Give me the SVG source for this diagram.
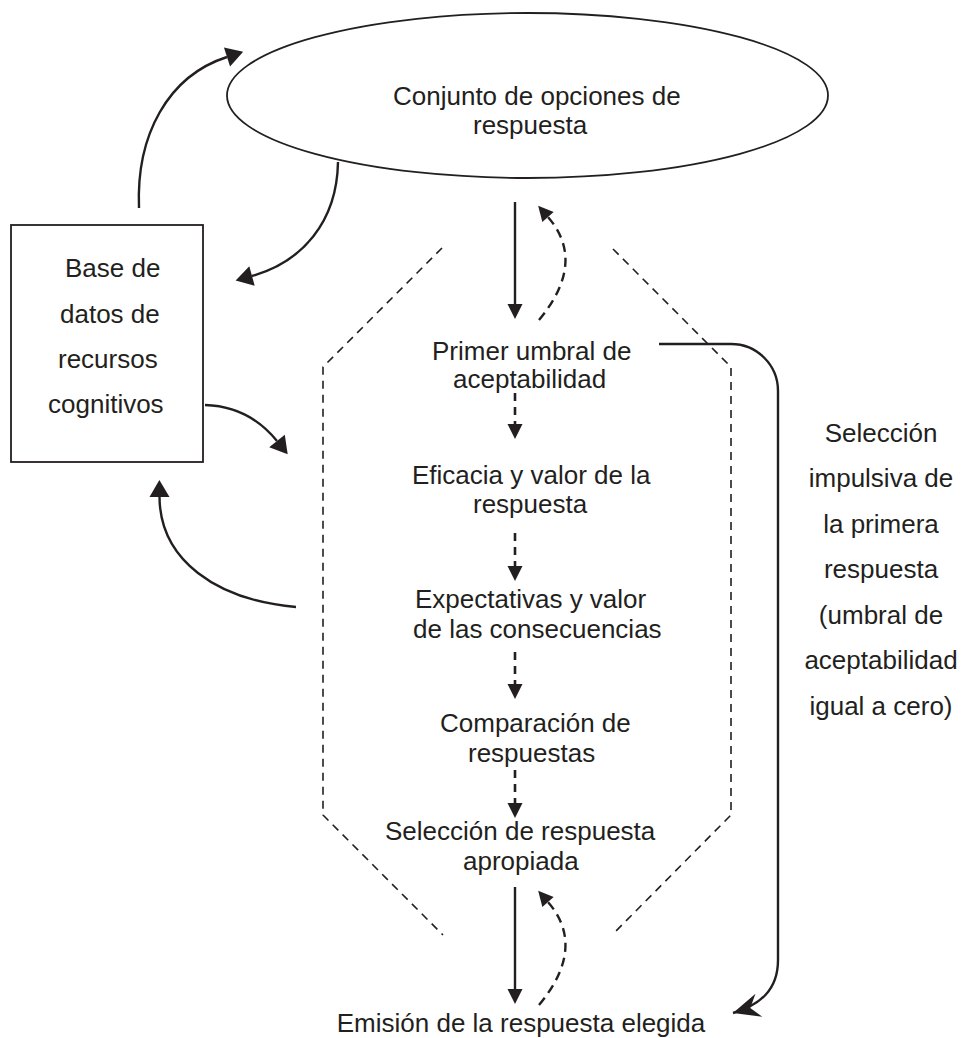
<svg xmlns="http://www.w3.org/2000/svg" width="963" height="1038" viewBox="0 0 963 1038">
<style>
text{font-family:"Liberation Sans",Arial,sans-serif;font-size:26px;fill:#231f20}
.s{fill:none;stroke:#231f20;stroke-width:2.4}
.d{fill:none;stroke:#231f20;stroke-width:2.4;stroke-dasharray:9 6}
.dv{fill:none;stroke:#231f20;stroke-width:2.6;stroke-dasharray:8 6}
.hex{fill:none;stroke:#231f20;stroke-width:1.6;stroke-dasharray:8 6}
.node{fill:#fff;stroke:#231f20;stroke-width:1.8}
</style>
<defs>
<marker id="big" markerUnits="userSpaceOnUse" viewBox="-1 -11 20 22" markerWidth="20" markerHeight="22" refX="0" refY="0" orient="auto"><path d="M0,-10 L17,0 L0,10 z" fill="#231f20"/></marker>
<marker id="mid" markerUnits="userSpaceOnUse" viewBox="-1 -9 17 18" markerWidth="17" markerHeight="18" refX="0" refY="0" orient="auto"><path d="M0,-7.5 L15,0 L0,7.5 z" fill="#231f20"/></marker>
<marker id="barb" markerUnits="userSpaceOnUse" viewBox="-28 -14 30 28" markerWidth="30" markerHeight="28" refX="0" refY="0" orient="auto"><path d="M0,0 L-27,-12 L-18,0 L-27,12 z" fill="#231f20"/></marker>
</defs>
<g id="opciones">
<ellipse class="node" cx="527.5" cy="95.5" rx="300.5" ry="82.5"/>
<text x="393" y="105">Conjunto de opciones de</text>
<text x="473" y="134">respuesta</text>
</g>
<g id="base">
<rect class="node" x="11" y="225" width="192" height="237"/>
<text x="65" y="277">Base de</text>
<text x="60" y="323">datos de</text>
<text x="58" y="368">recursos</text>
<text x="48" y="413">cognitivos</text>
</g>
<g id="embudo">
<path class="hex" d="M442,248 L323,367 L323,815 L443,935"/>
<path class="hex" d="M613,249 L731,367 L731,815 L612,935"/>
</g>
<g id="primer"><text x="432" y="360">Primer umbral de</text><text x="453" y="388">aceptabilidad</text></g>
<g id="eficacia"><text x="412" y="484">Eficacia y valor de la</text><text x="473" y="513">respuesta</text></g>
<g id="expectativas"><text x="415" y="608">Expectativas y valor</text><text x="413" y="638">de las consecuencias</text></g>
<g id="comparacion"><text x="440" y="732">Comparación de</text><text x="468" y="762">respuestas</text></g>
<g id="seleccion"><text x="385" y="840">Selección de respuesta</text><text x="463" y="870">apropiada</text></g>
<g id="emision"><text x="521" y="1032" text-anchor="middle">Emisión de la respuesta elegida</text></g>
<g id="impulsiva">
<text x="881" y="442" text-anchor="middle">Selección</text>
<text x="881" y="487" text-anchor="middle">impulsiva de</text>
<text x="881" y="533" text-anchor="middle">la primera</text>
<text x="881" y="578" text-anchor="middle">respuesta</text>
<text x="881" y="624" text-anchor="middle">(umbral de</text>
<text x="881" y="669" text-anchor="middle">aceptabilidad</text>
<text x="881" y="715" text-anchor="middle">igual a cero)</text>
</g>
<g id="connectors">
<path class="s" d="M139,208 C136,135 168,76 227,57" marker-end="url(#big)"/>
<path class="s" d="M338,162 C337,222 302,262 252,276" marker-end="url(#big)"/>
<path class="s" d="M205,405 C238,406 260,420 277,441" marker-end="url(#big)"/>
<path class="s" d="M296,607 C216,600 160,560 159.5,497" marker-end="url(#big)"/>
<path class="s" d="M515,202 V304" marker-end="url(#mid)"/>
<path class="d" d="M539,320 Q587,262 548,217" marker-end="url(#mid)"/>
<path class="s" d="M515,887 V989" marker-end="url(#mid)"/>
<path class="d" d="M539,1005 Q587,947 548,902" marker-end="url(#mid)"/>
<path class="dv" d="M515,393 V424" marker-end="url(#mid)"/>
<path class="dv" d="M515,533 V566" marker-end="url(#mid)"/>
<path class="dv" d="M515,652 V684" marker-end="url(#mid)"/>
<path class="dv" d="M515,770 V803" marker-end="url(#mid)"/>
<path class="s" d="M659,344 H731 A47,47 0 0 1 778,391 V960 C778,990 760,1005 733,1013" marker-end="url(#barb)"/>
</g>
</svg>
